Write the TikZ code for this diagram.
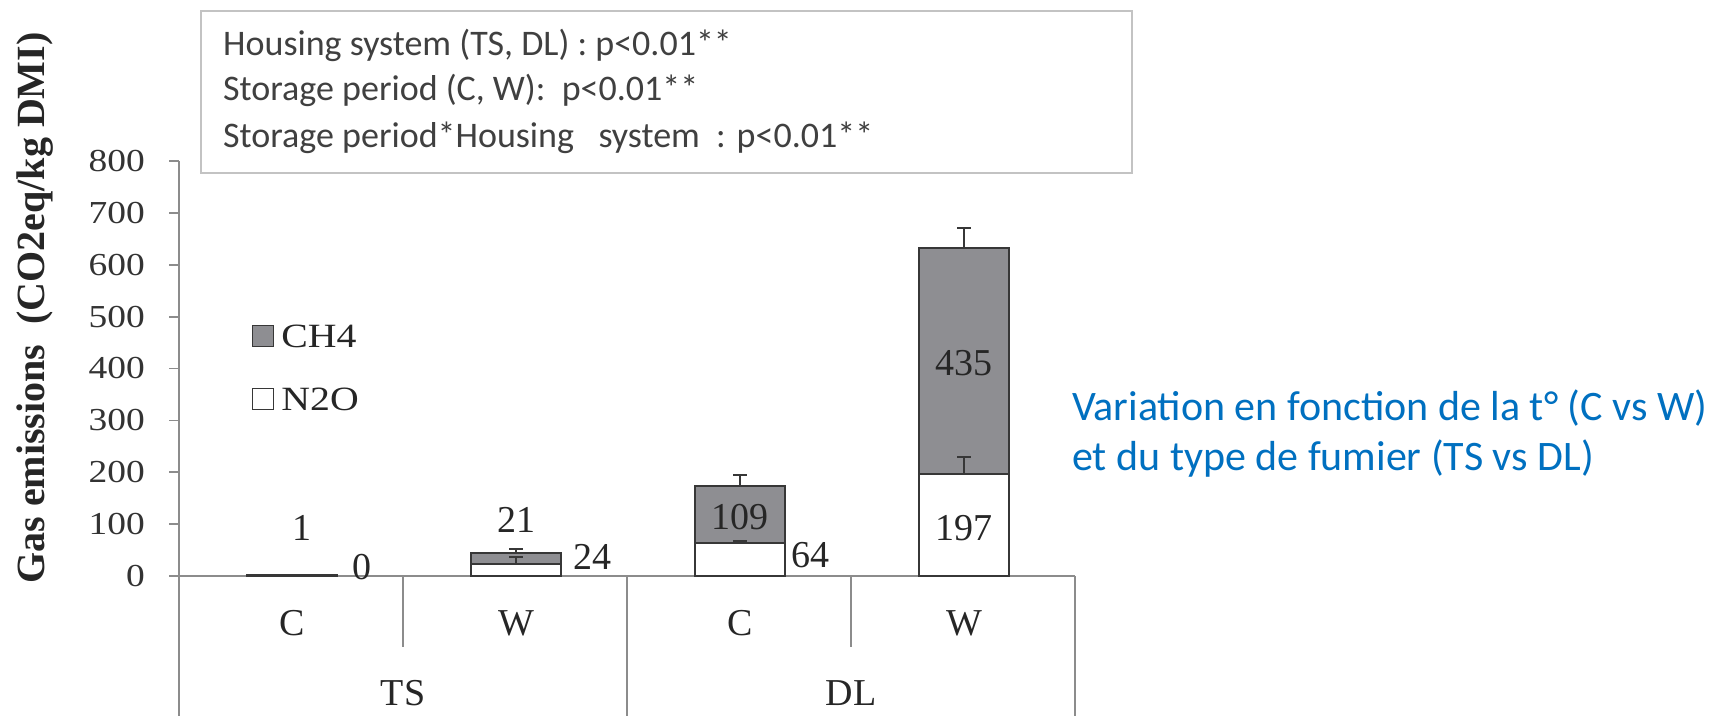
\documentclass[tikz,border=0pt]{standalone}
\usepackage{fontspec}
\setmainfont{Liberation Serif}
\newfontfamily\tnrwide[FakeStretch=1.17]{Liberation Serif}
\newfontfamily\calib{Carlito}
\usetikzlibrary{positioning}
\definecolor{axisgray}{RGB}{140,140,140}
\definecolor{bargray}{RGB}{142,142,146}
\definecolor{barline}{RGB}{55,55,55}
\definecolor{boxgray}{RGB}{195,195,195}
\definecolor{txtgray}{RGB}{64,64,64}
\definecolor{noteblue}{RGB}{0,112,192}
\tikzset{
    mybar/.style = {draw=barline, line width=2pt, fill=white},
    mybarg/.style = {draw=barline, line width=2pt, fill=bargray},
    myleg/.style = {draw=barline, line width=1.5pt, fill=white, minimum size=21pt, inner sep=0pt},
    mylegg/.style = {myleg, fill=bargray},
    edgeax/.style = {-, line width=1.8pt, axisgray},
    edgeerr/.style = {-, line width=1.8pt, barline},
    mybox/.style = {draw=boxgray, line width=1.5pt},
    myval/.style = {inner sep=0pt, font=\fontsize{38}{40}\selectfont, text=black!85},
    mytick/.style = {inner sep=0pt, anchor=east, font=\tnrwide\fontsize{32}{34}\selectfont, text=black!80},
    mycat/.style = {inner sep=0pt, font=\fontsize{38}{40}\selectfont, text=black!85},
    mylegt/.style = {inner sep=0pt, anchor=west, font=\tnrwide\fontsize{34}{36}\selectfont, text=black!85},
    mystat/.style = {inner sep=0pt, anchor=base west, font=\calib\fontsize{36}{40}\selectfont, text=txtgray},
    mynote/.style = {inner sep=0pt, anchor=base west, font=\calib\fontsize{42}{48}\selectfont, text=noteblue}
}

\begin{document}
\begin{tikzpicture}[x=1pt, y=-1pt]
\fill[white] (0,0) rectangle (1722,716);
\useasboundingbox (0,0) rectangle (1722,716);

% statistics box
\draw[mybox] (201,11) rectangle (1132,173);
\node[mystat] (stat1) at (223,55) {Housing system (TS, DL) : p<0.01**};
\node[mystat] (stat2) at (223,100) {Storage period (C, W):\ \ p<0.01**};
\node[mystat] (stat3) at (223,147) {Storage period*Housing\ \ \ system\ \ : p<0.01**};

% axes
\draw[edgeax] (179,161) -- (179,716);
\draw[edgeax] (169,576) -- (1075,576);
\draw[edgeax] (403,576) -- (403,647);
\draw[edgeax] (851,576) -- (851,647);
\draw[edgeax] (627,576) -- (627,716);
\draw[edgeax] (1075,576) -- (1075,716);
\draw[edgeax] (169,524.1) -- (179,524.1);
\draw[edgeax] (169,472.3) -- (179,472.3);
\draw[edgeax] (169,420.4) -- (179,420.4);
\draw[edgeax] (169,368.5) -- (179,368.5);
\draw[edgeax] (169,316.6) -- (179,316.6);
\draw[edgeax] (169,264.8) -- (179,264.8);
\draw[edgeax] (169,212.9) -- (179,212.9);
\draw[edgeax] (169,161) -- (179,161);

\node[mytick] (t0) at (145,576) {0};
\node[mytick] (t100) at (145,524.1) {100};
\node[mytick] (t200) at (145,472.3) {200};
\node[mytick] (t300) at (145,420.4) {300};
\node[mytick] (t400) at (145,368.5) {400};
\node[mytick] (t500) at (145,316.6) {500};
\node[mytick] (t600) at (145,264.8) {600};
\node[mytick] (t700) at (145,212.9) {700};
\node[mytick] (t800) at (145,161) {800};

\node[rotate=90, inner sep=0pt, font=\bfseries\fontsize{40}{44}\selectfont, text=black!85] (ylabel) at (35,308) {Gas emissions~ (CO2eq/kg DMI)};

% legend
\node[mylegg] (legch4) at (263,336) {};
\node[myleg] (legn2o) at (263,399) {};
\node[mylegt, right=7pt of legch4] (txtch4) {CH4};
\node[mylegt, right=7pt of legn2o] (txtn2o) {N2O};

% bars
\draw[mybarg] (247,576) rectangle (337,574.5);
\draw[mybar] (471,576) rectangle (561,563.5);
\draw[mybarg] (471,563.5) rectangle (561,552.7);
\draw[mybar] (695,576) rectangle (785,542.8);
\draw[mybarg] (695,542.8) rectangle (785,486.3);
\draw[mybar] (919,576) rectangle (1009,473.8);
\draw[mybarg] (919,473.8) rectangle (1009,248.1);

% error bars
\draw[edgeerr] (516,563.5) -- (516,557) (509,557) -- (523,557);
\draw[edgeerr] (516,552.7) -- (516,549) (509,549) -- (523,549);
\draw[edgeerr] (733,541) -- (747,541);
\draw[edgeerr] (740,486.3) -- (740,475) (733,475) -- (747,475);
\draw[edgeerr] (964,473.8) -- (964,457) (957,457) -- (971,457);
\draw[edgeerr] (964,248.1) -- (964,228) (957,228) -- (971,228);

% values
\node[myval] (vtsc1) at (302,528) {1};
\node[myval] (vtsc0) at (362,567) {0};
\node[myval] (vtsw1) at (516,520) {21};
\node[myval] (vtsw0) at (592,557) {24};
\node[myval] (vdlc1) at (740,517) {109};
\node[myval] (vdlc0) at (810,555) {64};
\node[myval] (vdlw1) at (964,363) {435};
\node[myval] (vdlw0) at (964,528) {197};

% categories
\node[mycat] (catc1) at (292,623) {C};
\node[mycat] (catw1) at (516,623) {W};
\node[mycat] (catc2) at (740,623) {C};
\node[mycat] (catw2) at (964,623) {W};
\node[mycat] (catts) at (403,693) {TS};
\node[mycat] (catdl) at (851,693) {DL};

% note
\node[mynote] (note1) at (1072,420) {Variation en fonction de la t° (C vs W)};
\node[mynote] (note2) at (1072,470) {et du type de fumier (TS vs DL)};
\end{tikzpicture}
\end{document}
